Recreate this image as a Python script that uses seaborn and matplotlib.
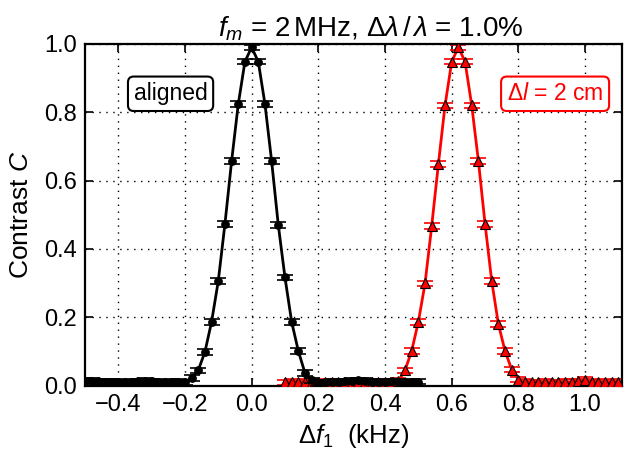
import matplotlib
matplotlib.use('Agg')
import matplotlib.pyplot as plt
import seaborn as sns
import pandas as pd

# dados
x_aligned = [-0.50, -0.48, -0.46, -0.44, -0.42, -0.40, -0.38, -0.36, -0.34, -0.32,
             -0.30, -0.28, -0.26, -0.24, -0.22, -0.20, -0.18, -0.16, -0.14, -0.12,
             -0.10, -0.08, -0.06, -0.04, -0.02, 0.00, 0.02, 0.04, 0.06, 0.08,
             0.10, 0.12, 0.14, 0.16, 0.18, 0.20, 0.22, 0.24, 0.26, 0.28,
             0.30, 0.32, 0.34, 0.36, 0.38, 0.40, 0.42, 0.44, 0.46, 0.48, 0.50]
c_aligned = [0.015, 0.014, 0.013, 0.012, 0.012, 0.011, 0.010, 0.011, 0.013, 0.014,
             0.013, 0.012, 0.010, 0.012, 0.011, 0.010, 0.022, 0.045, 0.099, 0.187,
             0.306, 0.473, 0.657, 0.824, 0.948, 0.990, 0.948, 0.824, 0.657, 0.470,
             0.317, 0.187, 0.102, 0.037, 0.016, 0.008, 0.010, 0.012, 0.011, 0.013,
             0.015, 0.016, 0.014, 0.012, 0.010, 0.011, 0.013, 0.012, 0.010, 0.011, 0.012]

x_shift = [0.10, 0.12, 0.14, 0.16, 0.18, 0.20, 0.22, 0.24, 0.26, 0.28,
           0.30, 0.32, 0.34, 0.36, 0.38, 0.40, 0.42, 0.44, 0.46, 0.48,
           0.50, 0.52, 0.54, 0.56, 0.58, 0.60, 0.62, 0.64, 0.66, 0.68,
           0.70, 0.72, 0.74, 0.76, 0.78, 0.80, 0.82, 0.84, 0.86, 0.88,
           0.90, 0.92, 0.94, 0.96, 0.98, 1.00, 1.02, 1.04, 1.06, 1.08, 1.10]
c_shift = [0.010, 0.011, 0.010, 0.012, 0.011, 0.010, 0.011, 0.012, 0.010, 0.011,
           0.012, 0.011, 0.010, 0.011, 0.012, 0.011, 0.010, 0.014, 0.045, 0.102,
           0.187, 0.299, 0.467, 0.648, 0.820, 0.948, 0.990, 0.948, 0.820, 0.658,
           0.473, 0.306, 0.180, 0.101, 0.047, 0.018, 0.012, 0.010, 0.010, 0.011,
           0.010, 0.010, 0.011, 0.012, 0.013, 0.018, 0.012, 0.010, 0.011, 0.010, 0.011]

err_aligned = [0.008] * len(x_aligned)
err_shift = [0.008] * len(x_shift)

df_al = pd.DataFrame({'df': x_aligned, 'C': c_aligned})
df_sh = pd.DataFrame({'df': x_shift, 'C': c_shift})

sns.set_style('ticks')
plt.rcParams['font.family'] = ['Liberation Sans', 'DejaVu Sans']
plt.rcParams['mathtext.fontset'] = 'custom'
plt.rcParams['mathtext.rm'] = 'Liberation Sans'
plt.rcParams['mathtext.it'] = 'Liberation Sans:italic'
plt.rcParams['mathtext.bf'] = 'Liberation Sans:bold'
plt.rcParams['text.color'] = 'black'
plt.rcParams['axes.labelcolor'] = 'black'

fig = plt.figure(figsize=(6.24, 4.57), dpi=100)
ax = fig.add_axes([0.136, 0.156, 0.861, 0.748])

# curva deslocada (vermelha)
ax.errorbar(x_shift, c_shift, yerr=err_shift, fmt='none', ecolor='red',
            elinewidth=1.2, capsize=5.5, capthick=1.2, zorder=2)
sns.lineplot(data=df_sh, x='df', y='C', color='red', lw=2.0, marker='^',
             markersize=7.5, markerfacecolor='red', markeredgecolor='black',
             markeredgewidth=0.8, ax=ax, zorder=3)

# curva alinhada (preta)
ax.errorbar(x_aligned, c_aligned, yerr=err_aligned, fmt='none', ecolor='black',
            elinewidth=1.2, capsize=5.5, capthick=1.2, zorder=4)
sns.lineplot(data=df_al, x='df', y='C', color='black', lw=2.0, marker='o',
             markersize=5.5, markeredgecolor='black', ax=ax, zorder=5)

ax.set_xlim(-0.5, 1.111)
ax.set_ylim(0, 1.0)
ax.set_xticks([-0.4, -0.2, 0.0, 0.2, 0.4, 0.6, 0.8, 1.0])
ax.set_xticklabels(['\u22120.4', '\u22120.2', '0.0', '0.2', '0.4', '0.6', '0.8', '1.0'])
ax.set_yticks([0.0, 0.2, 0.4, 0.6, 0.8, 1.0])
ax.set_yticklabels(['0.0', '0.2', '0.4', '0.6', '0.8', '1.0'])

ax.grid(True, color='black', linestyle=(0, (1, 4)), linewidth=1.0)
ax.tick_params(direction='in', top=True, right=True, length=6, width=1.2,
               labelsize=17, colors='black', pad=6)
for s in ax.spines.values():
    s.set_linewidth(1.6)
    s.set_color('black')
    s.set_visible(True)

ax.set_xlabel('\u0394$f_1$  (kHz)', fontsize=18.5, labelpad=4)
ax.set_ylabel('Contrast $C$', fontsize=19, labelpad=8)
ax.set_title('$f_m$ = 2$\\,$MHz, $\\Delta\\lambda\\,/\\,\\lambda$ = 1.0%', fontsize=20, pad=5, x=0.531)

ax.text(-0.243, 0.854, 'aligned', fontsize=16.5, color='black', ha='center', va='center',
        bbox=dict(boxstyle='round,pad=0.25', fc='white', ec='black', lw=1.5))
ax.text(0.91, 0.854, '\u0394$l$ = 2 cm', fontsize=16.5, color='red', ha='center', va='center',
        bbox=dict(boxstyle='round,pad=0.25', fc='white', ec='red', lw=1.5))

plt.savefig('out.png', dpi=100)
